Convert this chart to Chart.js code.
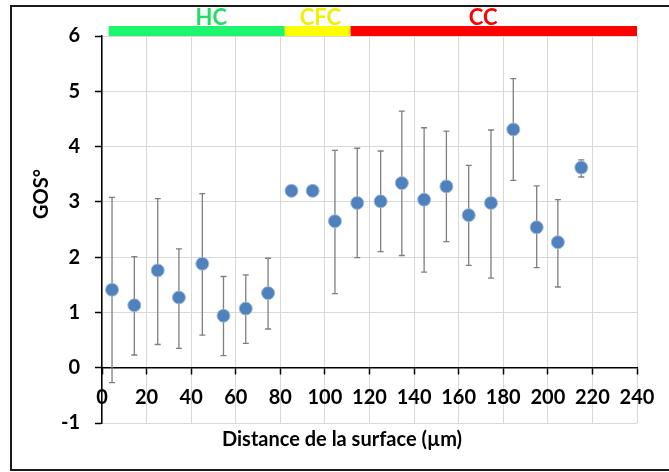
<!DOCTYPE html>
<html>
<head>
<meta charset="utf-8">
<script src="https://cdn.jsdelivr.net/npm/chart.js@4.4.1/dist/chart.umd.min.js"></script>
<style>
  html, body { margin: 0; padding: 0; background: #fff; overflow: hidden; }
  #wrap { position: relative; width: 669px; height: 472px; }
  #frame { position: absolute; left: 10px; top: 5px; width: 700px; height: 466px; border: 2px solid #1a1a1a; box-sizing: border-box; pointer-events: none; }
  canvas { position: absolute; left: 0; top: 0; }
</style>
</head>
<body>
<div id="wrap">
  <canvas id="chart" width="669" height="472"></canvas>
  <div id="frame"></div>
</div>
<script>
// --- data ---
const distances = [4.5, 14.5, 25, 34.5, 45, 54.5, 64.5, 74.5, 85, 94.5, 104.5, 114.5, 125, 134.5, 144.5, 154.5, 164.5, 174.5, 184.5, 195, 204.5, 215];
const gosMean = [1.41, 1.13, 1.76, 1.27, 1.88, 0.94, 1.07, 1.35, 3.20, 3.20, 2.65, 2.98, 3.01, 3.34, 3.04, 3.28, 2.76, 2.98, 4.31, 2.54, 2.27, 3.62];
const gosHigh = [3.08, 2.01, 3.06, 2.15, 3.15, 1.65, 1.68, 1.98, null, null, 3.93, 3.97, 3.92, 4.64, 4.34, 4.28, 3.66, 4.30, 5.23, 3.29, 3.04, 3.76];
const gosLow = [-0.27, 0.23, 0.42, 0.35, 0.59, 0.22, 0.44, 0.70, null, null, 1.34, 1.99, 2.10, 2.03, 1.73, 2.28, 1.85, 1.62, 3.39, 1.81, 1.46, 3.45];

// zones au-dessus du graphe
const zoneNames = ["HC", "CFC", "CC"];
const zoneStart = [3, 82, 111.5];
const zoneEnd = [82, 111.5, 240];
const zoneLabelX = [49, 98, 171];
const zoneColors = ["#1ef56f", "#ffff00", "#ff0000"];
const zoneTextColors = ["#22dd66", "#f0f000", "#ff0000"];

const xTitle = "Distance de la surface (µm)";
const yTitle = "GOS°";

const FONT = "Lato";
const tickFont = { family: FONT, size: 20, weight: "bold" };

// barres d'erreur, dessinées avant les points
const errorBars = {
  id: "errorBars",
  beforeDatasetsDraw(chart) {
    const { ctx } = chart;
    const x = chart.scales.x, y = chart.scales.y;
    ctx.save();
    ctx.strokeStyle = "#7f7f7f";
    ctx.lineWidth = 1.3;
    distances.forEach((d, i) => {
      if (gosLow[i] === null) return;
      const px = x.getPixelForValue(d);
      const pl = y.getPixelForValue(gosLow[i]);
      const ph = y.getPixelForValue(gosHigh[i]);
      ctx.beginPath();
      ctx.moveTo(px, pl); ctx.lineTo(px, ph);
      ctx.moveTo(px - 3, pl); ctx.lineTo(px + 3, pl);
      ctx.moveTo(px - 3, ph); ctx.lineTo(px + 3, ph);
      ctx.stroke();
    });
    ctx.restore();
  }
};

// bandes HC / CFC / CC et titres des axes
const decorations = {
  id: "decorations",
  afterDraw(chart) {
    const { ctx } = chart;
    const x = chart.scales.x, y = chart.scales.y;
    const yb = y.getPixelForValue(6);
    ctx.save();
    ctx.textAlign = "center";
    ctx.textBaseline = "middle";
    ctx.font = "bold 22px " + FONT;
    zoneNames.forEach((name, i) => {
      const x0 = x.getPixelForValue(zoneStart[i]);
      const x1 = x.getPixelForValue(zoneEnd[i]);
      ctx.fillStyle = zoneColors[i];
      ctx.fillRect(x0, yb - 10, x1 - x0, 10);
      ctx.fillStyle = zoneTextColors[i];
      ctx.fillText(name, x.getPixelForValue(zoneLabelX[i]), yb - 18);
    });

    ctx.fillStyle = "#000";
    ctx.font = "bold 20px " + FONT;
    ctx.fillText(xTitle, 342, 440);
    ctx.translate(42, 194);
    ctx.rotate(-Math.PI / 2);
    ctx.fillText(yTitle, 0, 0);
    ctx.restore();
  }
};

const ctx = document.getElementById("chart").getContext("2d");
new Chart(ctx, {
  type: "scatter",
  data: {
    datasets: [{
      data: distances.map((d, i) => ({ x: d, y: gosMean[i] })),
      backgroundColor: "#4f81bd",
      borderColor: "#9fb9dc",
      borderWidth: 1,
      pointRadius: 6.5,
      pointHoverRadius: 6.5,
      xAxisID: "x",
      yAxisID: "y"
    }]
  },
  options: {
    responsive: false,
    animation: false,
    layout: { padding: { top: 36, right: 32, bottom: 0, left: 0 } },
    plugins: { legend: { display: false }, tooltip: { enabled: false } },
    scales: {
      x: {
        type: "linear",
        position: "bottom",
        min: 0, max: 240,
        ticks: { stepSize: 20, mirror: true, padding: 13, color: "#000", font: tickFont, maxRotation: 0, autoSkip: false },
        grid: { color: "#d9d9d9", lineWidth: 1, drawTicks: false },
        border: { display: false },
        afterFit: s => { s.height = 49; }
      },
      xZero: {
        type: "linear",
        axis: "x",
        position: { y: 0 },
        min: 0, max: 240,
        ticks: { stepSize: 20, display: false },
        grid: { drawOnChartArea: false, tickLength: 6, tickColor: "#000", tickWidth: 1.5 },
        border: { color: "#000", width: 1.5 }
      },
      y: {
        type: "linear",
        min: -1, max: 6,
        ticks: { stepSize: 1, padding: 15, color: "#000", font: tickFont },
        grid: { color: "#d9d9d9", lineWidth: 1, tickLength: 7, tickColor: "#000", tickWidth: 1.5 },
        border: { color: "#000", width: 1.5 },
        afterFit: s => { s.width = 102; }
      }
    }
  },
  plugins: [errorBars, decorations]
});
</script>
</body>
</html>
